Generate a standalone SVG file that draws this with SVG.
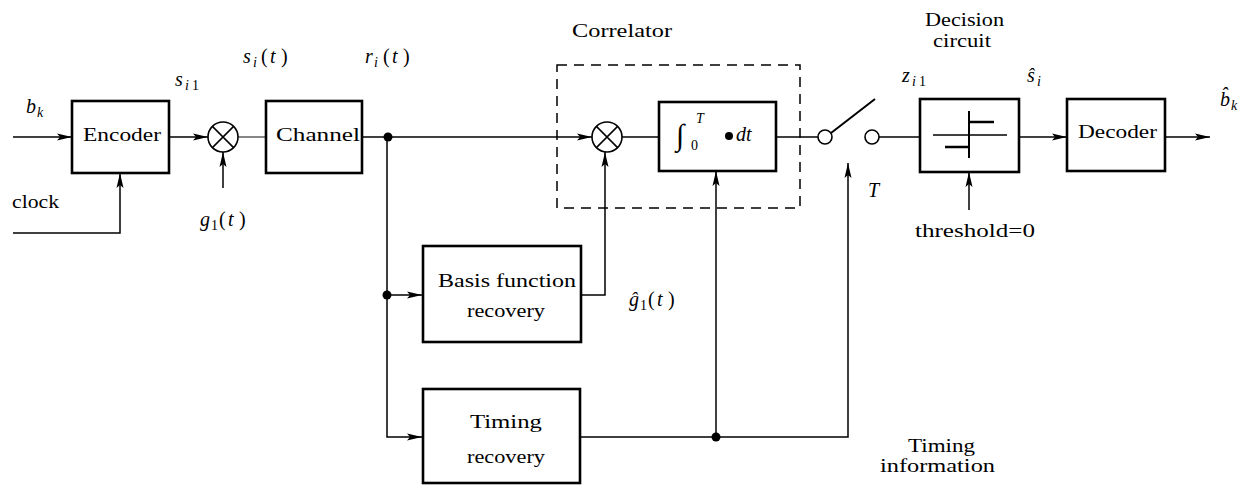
<svg xmlns="http://www.w3.org/2000/svg" width="1244" height="485" viewBox="0 0 1244 485">
<style>
.box{fill:#fff;stroke:#000;stroke-width:2.6}
.ln{fill:none;stroke:#000;stroke-width:1.5}
.lt{fill:none;stroke:#444;stroke-width:1.3}
.dash{fill:none;stroke:#000;stroke-width:1.5;stroke-dasharray:10,7}
.t{font-family:"Liberation Serif","DejaVu Serif",serif;font-size:18px;fill:#000}
.m{font-family:"Liberation Serif","DejaVu Serif",serif;font-style:italic;font-size:20px;fill:#000}
.s{font-size:14px}
.u{font-style:normal}
.dot{fill:#000}
</style>
<defs>
<marker id="ah" markerUnits="userSpaceOnUse" markerWidth="16" markerHeight="8" refX="15" refY="4" orient="auto">
<path d="M0,0.5 L15,4 L0,7.5 L3,4 Z" fill="#000"/>
</marker>
</defs>

<g id="correlator-frame">
<rect x="557" y="65" width="243" height="143" class="dash"/>
<text class="t" x="572" y="37" textLength="100" lengthAdjust="spacingAndGlyphs">Correlator</text>
</g>

<g id="connectors">
<line class="ln" x1="13" y1="137" x2="72" y2="137" marker-end="url(#ah)"/>
<polyline class="ln" points="13,233 120,233 120,173" marker-end="url(#ah)"/>
<line class="ln" x1="169" y1="137" x2="208" y2="137" marker-end="url(#ah)"/>
<line class="ln" x1="223" y1="188" x2="223" y2="152" marker-end="url(#ah)"/>
<line class="lt" x1="238" y1="137" x2="266" y2="137"/>
<line class="ln" x1="362" y1="137" x2="592" y2="137" marker-end="url(#ah)"/>
<polyline class="ln" points="387,137 387,437 422,437" marker-end="url(#ah)"/>
<line class="ln" x1="387" y1="295" x2="422" y2="295" marker-end="url(#ah)"/>
<polyline class="ln" points="581,295 605,295 605,152" marker-end="url(#ah)"/>
<line class="ln" x1="622" y1="137" x2="659" y2="137"/>
<line class="ln" x1="776" y1="137" x2="818" y2="137"/>
<line class="ln" x1="879" y1="137" x2="920" y2="137"/>
<polyline class="ln" points="581,437 848,437 848,163" marker-end="url(#ah)"/>
<line class="ln" x1="716" y1="437" x2="716" y2="171" marker-end="url(#ah)"/>
<line class="ln" x1="969" y1="210" x2="969" y2="172" marker-end="url(#ah)"/>
<line class="ln" x1="1019" y1="137" x2="1067" y2="137" marker-end="url(#ah)"/>
<line class="ln" x1="1165" y1="137" x2="1210" y2="137" marker-end="url(#ah)"/>
<circle class="dot" cx="388" cy="137" r="4.5"/>
<circle class="dot" cx="387" cy="295" r="4.5"/>
<circle class="dot" cx="716" cy="437" r="4.5"/>
</g>

<g id="encoder">
<rect class="box" x="72" y="101" width="97" height="72"/>
<text class="t" x="83" y="141" textLength="78" lengthAdjust="spacingAndGlyphs">Encoder</text>
</g>

<g id="multiplier1">
<circle cx="223" cy="137" r="15" fill="#fff" stroke="#000" stroke-width="1.6"/>
<path class="ln" d="M212.4,126.4 L233.6,147.6 M233.6,126.4 L212.4,147.6"/>
</g>

<g id="channel">
<rect class="box" x="266" y="101" width="96" height="72"/>
<text class="t" x="276" y="141" textLength="84" lengthAdjust="spacingAndGlyphs">Channel</text>
</g>

<g id="multiplier2">
<circle cx="607" cy="137" r="15" fill="#fff" stroke="#000" stroke-width="1.6"/>
<path class="ln" d="M596.4,126.4 L617.6,147.6 M617.6,126.4 L596.4,147.6"/>
</g>

<g id="integrator">
<rect class="box" x="659" y="102" width="117" height="69"/>
<text class="m" y="145"><tspan x="676" font-size="30" class="u">∫</tspan><tspan x="691" y="150" class="s u">0</tspan><tspan x="696" y="123" class="s">T</tspan><tspan x="736" y="141">dt</tspan></text>
<circle class="dot" cx="729" cy="136" r="4"/>
</g>

<g id="switch">
<circle cx="825" cy="137" r="7" fill="#fff" stroke="#000" stroke-width="1.6"/>
<circle cx="872" cy="137" r="7" fill="#fff" stroke="#000" stroke-width="1.6"/>
<line x1="831" y1="133" x2="875" y2="99" stroke="#000" stroke-width="2"/>
<text class="m" x="868" y="197">T</text>
</g>

<g id="decision">
<rect class="box" x="920" y="99" width="99" height="73"/>
<line class="ln" x1="933" y1="135" x2="1007" y2="135"/>
<line x1="969" y1="111" x2="969" y2="158" stroke="#000" stroke-width="2"/>
<line x1="969" y1="122" x2="994" y2="122" stroke="#000" stroke-width="2.5"/>
<line x1="945" y1="147" x2="969" y2="147" stroke="#000" stroke-width="2.5"/>
<text class="t" x="925" y="26" textLength="79" lengthAdjust="spacingAndGlyphs">Decision</text>
<text class="t" x="933" y="47" textLength="58" lengthAdjust="spacingAndGlyphs">circuit</text>
</g>

<g id="decoder">
<rect class="box" x="1067" y="99" width="98" height="72"/>
<text class="t" x="1078" y="138" textLength="79" lengthAdjust="spacingAndGlyphs">Decoder</text>
</g>

<g id="basis-recovery">
<rect class="box" x="423" y="246" width="158" height="96"/>
<text class="t" x="438" y="287" textLength="138" lengthAdjust="spacingAndGlyphs">Basis function</text>
<text class="t" x="467" y="317" textLength="78" lengthAdjust="spacingAndGlyphs">recovery</text>
</g>

<g id="timing-recovery">
<rect class="box" x="423" y="389" width="157" height="94"/>
<text class="t" x="470" y="428" textLength="72" lengthAdjust="spacingAndGlyphs">Timing</text>
<text class="t" x="467" y="463" textLength="78" lengthAdjust="spacingAndGlyphs">recovery</text>
</g>

<g id="labels">
<text class="m" y="113"><tspan x="26">b</tspan><tspan x="37" y="117" class="s">k</tspan></text>
<text class="t" x="12" y="208" textLength="47" lengthAdjust="spacingAndGlyphs">clock</text>
<text class="m" y="86"><tspan x="175">s</tspan><tspan x="185" y="90" class="s">i</tspan><tspan x="192" class="s u">1</tspan></text>
<text class="m" y="63"><tspan x="243">s</tspan><tspan x="253" y="67" class="s">i</tspan><tspan x="261" y="63" class="u">(</tspan><tspan x="270">t</tspan><tspan x="281" class="u">)</tspan></text>
<text class="m" y="63"><tspan x="365">r</tspan><tspan x="374" y="67" class="s">i</tspan><tspan x="383" y="63" class="u">(</tspan><tspan x="392">t</tspan><tspan x="403" class="u">)</tspan></text>
<text class="m" y="226"><tspan x="200">g</tspan><tspan x="211" y="230" class="s u">1</tspan><tspan x="219" y="226" class="u">(</tspan><tspan x="228">t</tspan><tspan x="239" class="u">)</tspan></text>
<text class="m" y="306"><tspan x="629">ĝ</tspan><tspan x="640" y="310" class="s u">1</tspan><tspan x="648" y="306" class="u">(</tspan><tspan x="657">t</tspan><tspan x="668" class="u">)</tspan></text>
<text class="m" y="82"><tspan x="902">z</tspan><tspan x="912" y="86" class="s">i</tspan><tspan x="919" class="s u">1</tspan></text>
<text class="m" y="82"><tspan x="1027">ŝ</tspan><tspan x="1037" y="86" class="s">i</tspan></text>
<text class="m" y="106"><tspan x="1220">b̂</tspan><tspan x="1231" y="110" class="s">k</tspan></text>
<text class="t" x="915" y="237" textLength="120" lengthAdjust="spacingAndGlyphs">threshold=0</text>
<text class="t" x="908" y="452" textLength="67" lengthAdjust="spacingAndGlyphs">Timing</text>
<text class="t" x="880" y="472" textLength="115" lengthAdjust="spacingAndGlyphs">information</text>
</g>
</svg>
